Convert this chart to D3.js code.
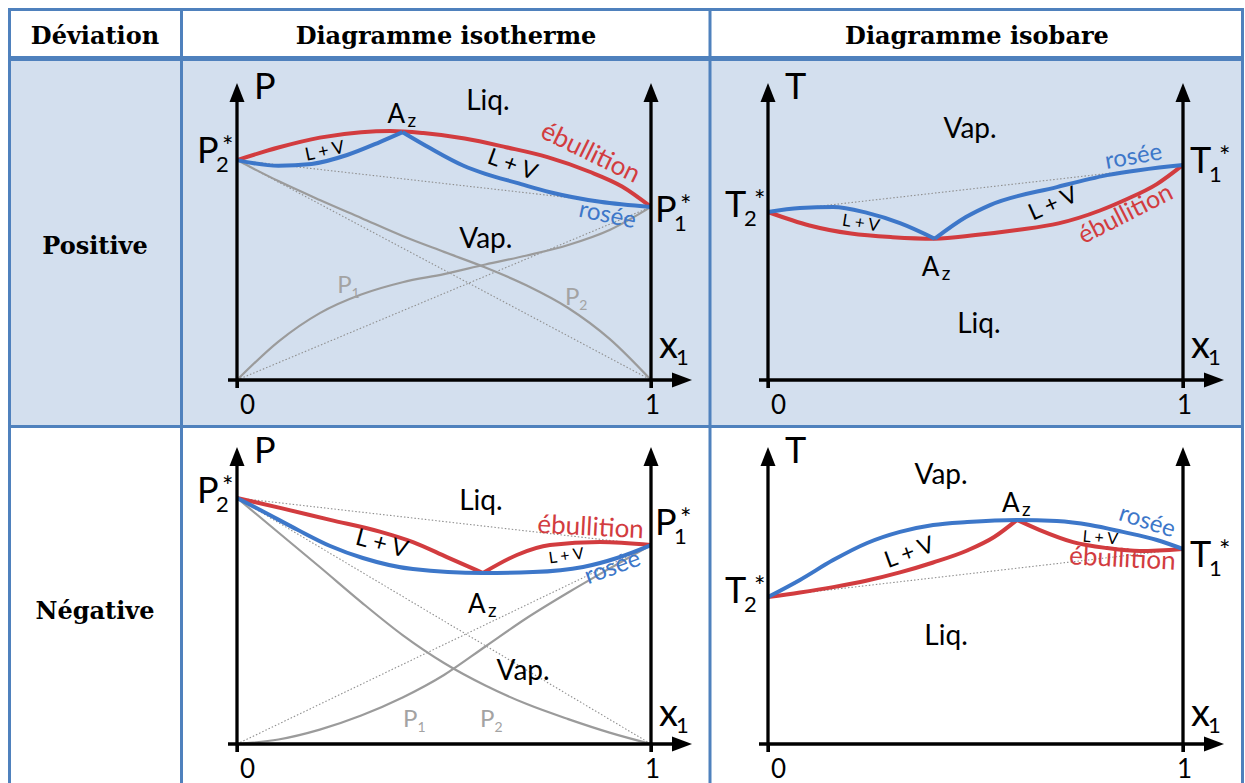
<!DOCTYPE html>
<html>
<head>
<meta charset="utf-8">
<script src="https://cdn.jsdelivr.net/npm/d3@7"></script>
<style>
  body { margin: 0; background: #fff; }
  svg { display: block; }
</style>
</head>
<body>
<div id="chart"></div>
<script>
// values: x1 from 0 to 1, P or T in arbitrary units (0..100)
const headers = ["Déviation", "Diagramme isotherme", "Diagramme isobare"];
const rowNames = ["Positive", "Négative"];
const xTicks = [0, 1];
const xGrid = [0, 0.1, 0.2, 0.3, 0.4, 0.5, 0.6, 0.7, 0.8, 0.9, 1];

// positive deviation, isotherme (P vs x1)
const posIsoStar = [73.3, 57.7]; // P2*, P1*
const posIsoBubble = [[0, 73.3], [0.1, 77.5], [0.2, 80.8], [0.3, 82.6], [0.37, 83], [0.45, 82.3], [0.55, 80.5], [0.65, 77.6], [0.75, 74.3], [0.85, 69.5], [0.93, 64.5], [1, 57.7]];
const posIsoDewL = [[0, 73.3], [0.1, 71.4], [0.18, 72], [0.266, 75], [0.345, 79.3], [0.4, 82.6]];
const posIsoDewR = [[0.4, 82.6], [0.466, 77.3], [0.546, 71.5], [0.6, 68.7], [0.676, 65.7], [0.756, 62.6], [0.877, 59.4], [1, 57.7]];
const posIsoP1 = [0, 12.8, 22.3, 28.5, 32.6, 35.3, 38.5, 41.5, 45, 50, 57.7];
const posIsoP2 = [73.3, 66.3, 60, 54, 48, 42.7, 37.5, 31.5, 24, 13.7, 0];

// positive deviation, isobare (T vs x1)
const posBarStar = [56, 71.7]; // T2*, T1*
const posBarBubble = [[0, 56], [0.1, 51.5], [0.2, 48.8], [0.3, 47.6], [0.402, 47.1], [0.5, 48.3], [0.6, 50], [0.7, 52.2], [0.8, 56.5], [0.86, 60], [0.937, 65.3], [1, 71.7]];
const posBarDewL = [[0, 56], [0.077, 57.3], [0.157, 57.7], [0.239, 55.7], [0.318, 52.3], [0.402, 47.1]];
const posBarDewR = [[0.402, 47.1], [0.477, 54.3], [0.535, 58.3], [0.696, 64.3], [0.817, 68.3], [1, 71.7]];

// negative deviation, isotherme
const negIsoStar = [82, 66.3];
const negIsoBubbleL = [[0, 82], [0.104, 78.7], [0.225, 74.7], [0.345, 70.8], [0.425, 67.3], [0.507, 62.3], [0.594, 57]];
const negIsoBubbleR = [[0.594, 57], [0.676, 63], [0.756, 66.3], [0.877, 67.3], [1, 66.3]];
const negIsoDew = [[0, 82], [0.063, 77.5], [0.145, 71.5], [0.225, 66], [0.304, 62], [0.425, 58.3], [0.594, 57], [0.715, 57.3], [0.836, 59], [0.918, 62], [1, 66.3]];
const negIsoP1 = [0, 1.5, 4.8, 9.5, 15.5, 23, 32.5, 42, 50.5, 58.5, 66.3];
const negIsoP2 = [82, 70.5, 59, 47.3, 36.3, 27, 19.5, 13.3, 8.3, 3.8, 0];

// negative deviation, isobare
const negBarStar = [49, 65];
const negBarDew = [[0, 49], [0.077, 54.7], [0.157, 61.3], [0.239, 67], [0.318, 70.7], [0.398, 73], [0.48, 74], [0.6, 74.7], [0.696, 74.3], [0.776, 73], [0.855, 70.7], [0.937, 68], [1, 65]];
const negBarBubbleL = [[0, 49], [0.077, 50.5], [0.157, 52.3], [0.239, 54.5], [0.318, 57.2], [0.398, 60.5], [0.48, 64.5], [0.545, 69], [0.6, 74.7]];
const negBarBubbleR = [[0.6, 74.7], [0.655, 71.3], [0.735, 67.3], [0.817, 65.3], [0.896, 64.3], [1, 65]];

const W = 1245, H = 783;
const RED = "#d23c3f", BLUE = "#3d77c9", GREY = "#9b9b9b", EDGE = "#4f81bd";
const SANS = "Lato, 'Open Sans', sans-serif";
const SERIF = "'DejaVu Serif', serif";

const svg = d3.select("#chart").append("svg").attr("width", W).attr("height", H);

// ---- table ----
svg.append("rect").attr("x", 8).attr("y", 59).attr("width", 1236).attr("height", 368).attr("fill", "#d3dfee");

const grid = svg.append("g").attr("stroke", EDGE).attr("stroke-width", 3);
grid.append("line").attr("x1", 8).attr("x2", 1244).attr("y1", 9.5).attr("y2", 9.5);
grid.append("line").attr("x1", 9.5).attr("x2", 9.5).attr("y1", 8).attr("y2", H);
grid.append("line").attr("x1", 1242.5).attr("x2", 1242.5).attr("y1", 8).attr("y2", H);
grid.append("line").attr("x1", 181.5).attr("x2", 181.5).attr("y1", 8).attr("y2", H);
grid.append("line").attr("x1", 710).attr("x2", 710).attr("y1", 8).attr("y2", H);
grid.append("line").attr("x1", 8).attr("x2", 1244).attr("y1", 58.5).attr("y2", 58.5).attr("stroke-width", 5);
grid.append("line").attr("x1", 8).attr("x2", 1244).attr("y1", 426.5).attr("y2", 426.5);

const headX = [95, 446, 977];
svg.selectAll(".head").data(headers).enter().append("text")
  .attr("x", (d, i) => headX[i]).attr("y", 44)
  .attr("text-anchor", "middle")
  .style("font-family", SERIF).style("font-weight", "bold").style("font-size", "24px")
  .text(d => d);

const rowY = [254, 619];
svg.selectAll(".rowname").data(rowNames).enter().append("text")
  .attr("x", 95).attr("y", (d, i) => rowY[i])
  .attr("text-anchor", "middle")
  .style("font-family", SERIF).style("font-weight", "bold").style("font-size", "24px")
  .text(d => d);

// measure a string in the sans font, used to tuck subscripts under the letter
const probe = svg.append("text").style("font-family", SANS);
function width(s, size) {
  probe.style("font-size", size + "px").text(s);
  return probe.node().getComputedTextLength();
}

// one text element: letter, subscript, optional star
function symbol(g, px, py, letter, sub, o) {
  const t = g.append("text").attr("x", px).attr("y", py)
    .style("font-family", SANS).style("font-size", o.size + "px").text(letter);
  const lw = width(letter, o.size);
  t.append("tspan").attr("dx", o.subDx - lw).attr("dy", o.subDy)
    .style("font-size", o.subSize + "px").text(sub);
  if (o.starDx != null) {
    const sw = width(sub, o.subSize);
    t.append("tspan").attr("dx", o.starDx - o.subDx - sw).attr("dy", -o.subDy - 7)
      .style("font-size", "27px").text("*");
  }
  return t;
}

// ---- panels ----
function panel(cfg) {
  const g = svg.append("g");
  const x = d3.scaleLinear().domain([0, 1]).range([cfg.x0, cfg.x1]);
  const y = d3.scaleLinear().domain([0, 100]).range([cfg.yBase, cfg.yBase - 300]);
  const line = d3.line().x(d => x(d[0])).y(d => y(d[1])).curve(d3.curveMonotoneX);
  const gridPts = vals => vals.map((v, i) => [xGrid[i], v]);

  const [s2, s1] = cfg.star;

  // ideal (dotted) straight lines
  const dotted = [[[0, s2], [1, s1]]];
  if (cfg.p1) dotted.push([[0, s2], [1, 0]], [[0, 0], [1, s1]]);
  g.selectAll(".dot").data(dotted).enter().append("path")
    .attr("d", d3.line().x(d => x(d[0])).y(d => y(d[1])))
    .attr("fill", "none").attr("stroke", "#8f8f8f").attr("stroke-width", 1.1)
    .attr("stroke-dasharray", "1.5,2");

  // partial pressures
  if (cfg.p1) {
    g.selectAll(".part").data([gridPts(cfg.p1), gridPts(cfg.p2)]).enter().append("path")
      .attr("d", line).attr("fill", "none").attr("stroke", GREY).attr("stroke-width", 2.2);
  }

  g.selectAll(".bub").data(cfg.bubble).enter().append("path")
    .attr("d", line).attr("fill", "none").attr("stroke", RED).attr("stroke-width", 4);
  g.selectAll(".dew").data(cfg.dew).enter().append("path")
    .attr("d", line).attr("fill", "none").attr("stroke", BLUE).attr("stroke-width", 4);

  // axes
  const ax = g.append("g").attr("transform", `translate(0,${cfg.yBase})`)
    .call(d3.axisBottom(x).tickValues(xTicks).tickFormat(d3.format("d")).tickSize(8).tickPadding(8).tickSizeOuter(0));
  ax.select(".domain").remove();
  ax.selectAll(".tick line").attr("stroke", "#000").attr("stroke-width", 3);
  ax.selectAll(".tick text").attr("fill", "#000").attr("dx", d => d === 0 ? 10 : 1)
    .style("font-family", SANS).style("font-size", "26px");

  const top = y(99);
  g.append("line").attr("x1", cfg.x0 - 9).attr("x2", cfg.x1 + 24).attr("y1", cfg.yBase).attr("y2", cfg.yBase)
    .attr("stroke", "#000").attr("stroke-width", 3.3);
  [cfg.x0, cfg.x1].forEach(px => {
    g.append("line").attr("x1", px).attr("x2", px).attr("y1", cfg.yBase + 8).attr("y2", top + 16)
      .attr("stroke", "#000").attr("stroke-width", 3.3);
    g.append("path").attr("d", `M${px},${top} L${px - 7.5},${top + 19} L${px + 7.5},${top + 19} Z`).attr("fill", "#000");
  });
  const tip = cfg.x1 + 41;
  g.append("path").attr("d", `M${tip},${cfg.yBase} L${tip - 20},${cfg.yBase - 7.5} L${tip - 20},${cfg.yBase + 7.5} Z`).attr("fill", "#000");

  // axis names
  g.append("text").attr("x", cfg.x0 + 17).attr("y", top + 16)
    .style("font-family", SANS).style("font-size", "36px").text(cfg.v);
  symbol(g, cfg.x1 + 8, cfg.yBase - cfg.xOff, "x", "1", { size: 38, subDx: 17, subDy: 7, subSize: 22 });

  // P2*, P1* or T2*, T1*
  const isT = cfg.v === "T";
  const so = { size: 36, subDx: 19, subDy: 9, subSize: 22, starDx: isT ? 29 : 25 };
  symbol(g, cfg.x0 - 40 - (isT ? 3 : 0), y(s2) + cfg.s2dy, cfg.v, "2", so);
  symbol(g, cfg.x1 + (isT ? 7 : 4), y(s1) + cfg.s1dy, cfg.v, "1", so);

  // azeotrope
  symbol(g, x(cfg.az[0]) + cfg.azOff[0], y(cfg.az[1]) + cfg.azOff[1], "A", "z",
    { size: 26, subDx: 20, subDy: 4, subSize: 19 });

  // region and curve names
  cfg.labels.forEach(l => {
    g.append("text")
      .attr("transform", `translate(${x(l.t)},${y(l.v)}) rotate(${l.r || 0})`)
      .attr("text-anchor", l.a || "middle")
      .attr("fill", l.c || "#000")
      .style("font-family", SANS).style("font-size", l.s + "px")
      .text(l.txt)
      .call(t => { if (l.sub) t.append("tspan").attr("dy", 5).style("font-size", "14px").text(l.sub); });
  });
}

panel({
  x0: 237, x1: 651, yBase: 380, v: "P", xOff: 22,
  star: posIsoStar, s2dy: 3, s1dy: 15,
  bubble: [posIsoBubble], dew: [posIsoDewL, posIsoDewR],
  p1: posIsoP1, p2: posIsoP2,
  az: posIsoDewL[posIsoDewL.length - 1], azOff: [-15, -9],
  labels: [
    { txt: "Liq.", t: 0.606, v: 90, s: 28 },
    { txt: "Vap.", t: 0.601, v: 44, s: 28 },
    { txt: "L + V", t: 0.215, v: 74.5, s: 18, r: -12 },
    { txt: "L + V", t: 0.659, v: 69.5, s: 23, r: 20 },
    { txt: "ébullition", t: 0.845, v: 73.3, s: 26, r: 26, c: RED },
    { txt: "rosée", t: 0.891, v: 52.5, s: 24, r: 12, c: BLUE },
    { txt: "P", t: 0.242, v: 29, s: 24, a: "start", c: "#a3a3a3", sub: "1" },
    { txt: "P", t: 0.792, v: 25, s: 24, a: "start", c: "#a3a3a3", sub: "2" }
  ]
});

panel({
  x0: 768, x1: 1183, yBase: 380, v: "T", xOff: 22,
  star: posBarStar, s2dy: 5, s1dy: 8,
  bubble: [posBarBubble], dew: [posBarDewL, posBarDewR],
  az: posBarDewL[posBarDewL.length - 1], azOff: [-13, 37],
  labels: [
    { txt: "Vap.", t: 0.487, v: 80.7, s: 28 },
    { txt: "Liq.", t: 0.508, v: 15.7, s: 28 },
    { txt: "L + V", t: 0.222, v: 50.5, s: 17, r: 9 },
    { txt: "L + V", t: 0.694, v: 56.5, s: 23, r: -24 },
    { txt: "ébullition", t: 0.87, v: 53, s: 25, r: -27, c: RED },
    { txt: "rosée", t: 0.884, v: 72, s: 24, r: -10, c: BLUE }
  ]
});

panel({
  x0: 237, x1: 651, yBase: 744, v: "P", xOff: 18,
  star: negIsoStar, s2dy: 5, s1dy: -10,
  bubble: [negIsoBubbleL, negIsoBubbleR], dew: [negIsoDew],
  p1: negIsoP1, p2: negIsoP2,
  az: negIsoBubbleL[negIsoBubbleL.length - 1], azOff: [-15, 40],
  labels: [
    { txt: "Liq.", t: 0.589, v: 78, s: 28 },
    { txt: "Vap.", t: 0.691, v: 21.3, s: 28 },
    { txt: "L + V", t: 0.345, v: 64.3, s: 24, r: 15 },
    { txt: "L + V", t: 0.797, v: 61, s: 16, r: -8 },
    { txt: "ébullition", t: 0.853, v: 69.5, s: 26, r: 3, c: RED },
    { txt: "rosée", t: 0.913, v: 56.5, s: 24, r: -20, c: BLUE },
    { txt: "P", t: 0.401, v: 5.7, s: 24, a: "start", c: "#a3a3a3", sub: "1" },
    { txt: "P", t: 0.587, v: 5.7, s: 24, a: "start", c: "#a3a3a3", sub: "2" }
  ]
});

panel({
  x0: 768, x1: 1183, yBase: 744, v: "T", xOff: 18,
  star: negBarStar, s2dy: 6, s1dy: 18,
  bubble: [negBarBubbleL, negBarBubbleR], dew: [negBarDew],
  az: negBarBubbleL[negBarBubbleL.length - 1], azOff: [-15, -8],
  labels: [
    { txt: "Vap.", t: 0.417, v: 86.7, s: 28 },
    { txt: "Liq.", t: 0.429, v: 33, s: 28 },
    { txt: "L + V", t: 0.347, v: 61.5, s: 23, r: -20 },
    { txt: "L + V", t: 0.8, v: 67, s: 16, r: 5 },
    { txt: "ébullition", t: 0.853, v: 59, s: 26, r: 3, c: RED },
    { txt: "rosée", t: 0.908, v: 71.8, s: 24, r: 18, c: BLUE }
  ]
});

probe.remove();
</script>
</body>
</html>
